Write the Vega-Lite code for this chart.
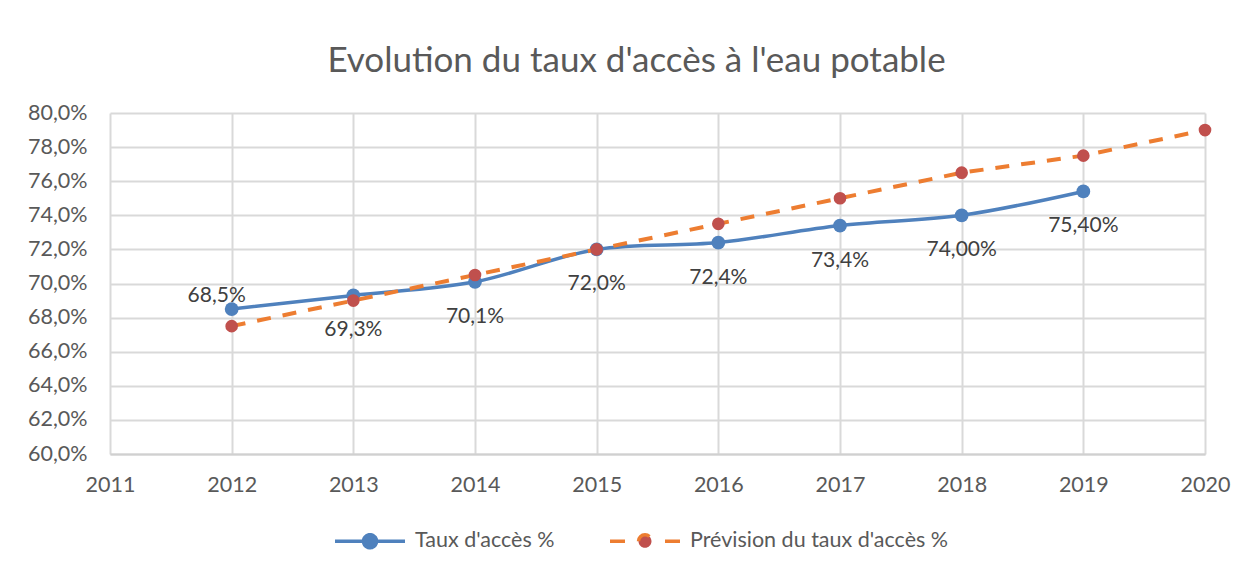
{
  "$schema": "https://vega.github.io/schema/vega-lite/v6.json",
  "width": 1095,
  "height": 341,
  "autosize": {"type": "none"},
  "padding": {"left": 110, "top": 113, "right": 42, "bottom": 114},
  "background": "#ffffff",
  "title": {
    "text": "Evolution du taux d'accès à l'eau potable",
    "font": "Lato",
    "fontSize": 35,
    "fontWeight": "normal",
    "color": "#595959",
    "anchor": "middle",
    "frame": "group",
    "baseline": "alphabetic",
    "offset": -5,
    "dx": -21
  },
  "config": {
    "view": {"stroke": null},
    "font": "Lato",
    "axis": {
      "labelFont": "Lato",
      "labelFontSize": 21.5,
      "labelColor": "#595959",
      "gridColor": "#d9d9d9",
      "gridWidth": 2,
      "ticks": false,
      "title": null
    }
  },
  "data": {
    "values": [
      {"annee": 2012, "serie": "Taux d'accès %", "taux": 68.5, "etiquette": "68,5%"},
      {"annee": 2013, "serie": "Taux d'accès %", "taux": 69.3, "etiquette": "69,3%"},
      {"annee": 2014, "serie": "Taux d'accès %", "taux": 70.1, "etiquette": "70,1%"},
      {"annee": 2015, "serie": "Taux d'accès %", "taux": 72.0, "etiquette": "72,0%"},
      {"annee": 2016, "serie": "Taux d'accès %", "taux": 72.4, "etiquette": "72,4%"},
      {"annee": 2017, "serie": "Taux d'accès %", "taux": 73.4, "etiquette": "73,4%"},
      {"annee": 2018, "serie": "Taux d'accès %", "taux": 74.0, "etiquette": "74,00%"},
      {"annee": 2019, "serie": "Taux d'accès %", "taux": 75.4, "etiquette": "75,40%"},
      {"annee": 2012, "serie": "Prévision du taux d'accès %", "taux": 67.5},
      {"annee": 2013, "serie": "Prévision du taux d'accès %", "taux": 69.0},
      {"annee": 2014, "serie": "Prévision du taux d'accès %", "taux": 70.5},
      {"annee": 2015, "serie": "Prévision du taux d'accès %", "taux": 72.0},
      {"annee": 2016, "serie": "Prévision du taux d'accès %", "taux": 73.5},
      {"annee": 2017, "serie": "Prévision du taux d'accès %", "taux": 75.0},
      {"annee": 2018, "serie": "Prévision du taux d'accès %", "taux": 76.5},
      {"annee": 2019, "serie": "Prévision du taux d'accès %", "taux": 77.5},
      {"annee": 2020, "serie": "Prévision du taux d'accès %", "taux": 79.0}
    ]
  },
  "encoding": {
    "x": {
      "field": "annee",
      "type": "quantitative",
      "scale": {"domain": [2011, 2020], "nice": false, "zero": false},
      "axis": {
        "values": [2011, 2012, 2013, 2014, 2015, 2016, 2017, 2018, 2019, 2020],
        "format": "d",
        "domain": true,
        "domainColor": "#d0d0d0",
        "domainWidth": 2,
        "labelPadding": 20,
        "labelFlush": false
      }
    },
    "y": {
      "field": "taux",
      "type": "quantitative",
      "scale": {"domain": [60, 80], "nice": false, "zero": false},
      "axis": {
        "values": [60, 62, 64, 66, 68, 70, 72, 74, 76, 78, 80],
        "labelExpr": "replace(format(datum.value, '.1f'), '.', ',') + '%'",
        "domain": false,
        "labelPadding": 23
      }
    }
  },
  "layer": [
    {
      "transform": [{"filter": "datum.serie === \"Taux d'accès %\""}],
      "mark": {"type": "line", "interpolate": "catmull-rom", "strokeWidth": 3.5, "strokeCap": "round"},
      "encoding": {
        "color": {
          "field": "serie",
          "type": "nominal",
          "scale": {"domain": ["Taux d'accès %", "Prévision du taux d'accès %"], "range": ["#4F81BD", "#ED7D31"]},
          "legend": {
            "title": null,
            "orient": "none",
            "legendX": 223,
            "legendY": 391,
            "direction": "horizontal",
            "symbolType": "M-1,0L1,0M-0.186,0A0.186,0.186,0,1,1,0.186,0A0.186,0.186,0,1,1,-0.186,0Z",
            "symbolSize": 4900,
            "symbolStrokeWidth": 3.5,
            "labelFont": "Lato",
            "labelFontSize": 21.5,
            "labelColor": "#595959",
            "labelOffset": 8,
            "columnPadding": 48,
            "labelLimit": 400,
            "encode": {
              "symbols": {
                "update": {
                  "fill": {"signal": "datum.value === \"Taux d'accès %\" ? '#4F81BD' : '#C0504D'"},
                  "strokeDash": {"signal": "datum.value === \"Taux d'accès %\" ? [1, 0] : [15, 40]"}
                }
              }
            }
          }
        }
      }
    },
    {
      "transform": [{"filter": "datum.serie === \"Taux d'accès %\""}],
      "mark": {"type": "point", "filled": true, "opacity": 1, "size": 190, "color": "#4F81BD"}
    },
    {
      "transform": [{"filter": "datum.serie === \"Prévision du taux d'accès %\""}],
      "mark": {"type": "line", "interpolate": "linear", "strokeWidth": 4, "strokeDash": [14, 12]},
      "encoding": {
        "color": {"field": "serie", "type": "nominal"}
      }
    },
    {
      "transform": [{"filter": "datum.serie === \"Prévision du taux d'accès %\""}],
      "mark": {"type": "point", "filled": true, "opacity": 1, "size": 160, "color": "#C0504D"}
    },
    {
      "transform": [{"filter": "datum.serie === \"Taux d'accès %\" && datum.annee === 2012"}],
      "mark": {"type": "text", "font": "Lato", "fontSize": 21, "color": "#404040", "baseline": "middle", "align": "center", "dx": -15, "dy": -13},
      "encoding": {"text": {"field": "etiquette"}}
    },
    {
      "transform": [{"filter": "datum.serie === \"Taux d'accès %\" && datum.annee > 2012"}],
      "mark": {"type": "text", "font": "Lato", "fontSize": 21, "color": "#404040", "baseline": "middle", "align": "center", "dy": 35},
      "encoding": {"text": {"field": "etiquette"}}
    }
  ]
}
